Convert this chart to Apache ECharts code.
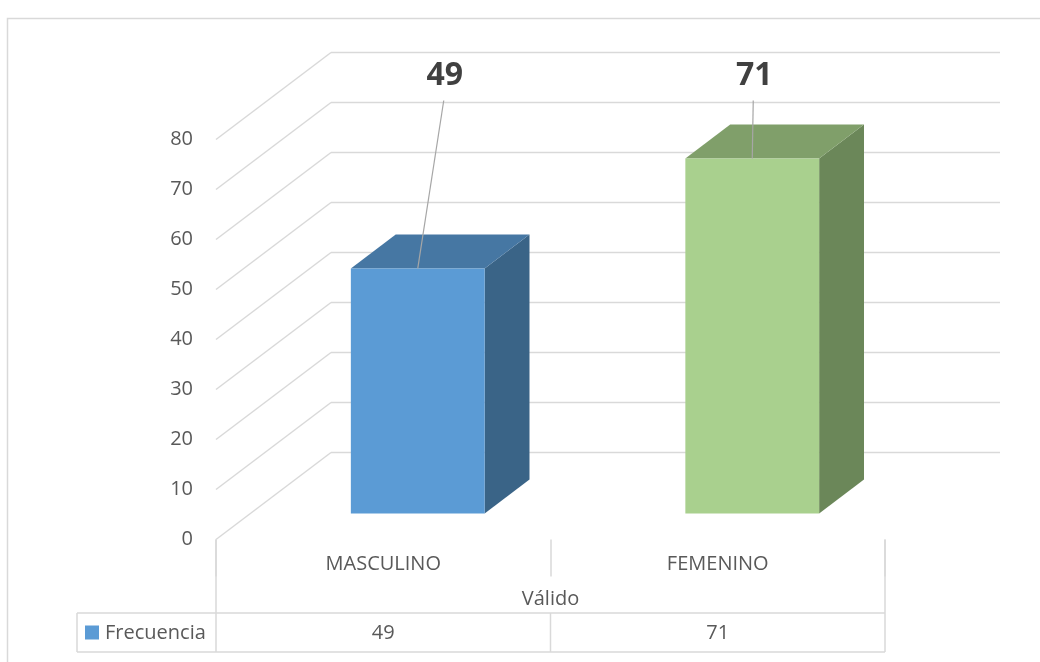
<!DOCTYPE html>
<html><head><meta charset="utf-8">
<script src="https://cdn.jsdelivr.net/npm/echarts@6.0.0/dist/echarts.min.js"></script>
<style>html,body{margin:0;padding:0;background:#fff}#c{width:1040px;height:662px}</style>
</head><body><div id="c"></div>
<script>
// ---- data ----
const categories = ['MASCULINO', 'FEMENINO'];
const groupLabel = 'Válido';
const seriesName = 'Frecuencia';
const frecuencia = [49, 71];
const yTicks = [0, 10, 20, 30, 40, 50, 60, 70, 80];

// ---- style ----
const FONT = "'Open Sans', sans-serif";
const GRID = '#d9d9d9';
const TXT = '#595959';
const DX = 115, DY = -87;          // full depth projection
const F0 = 0.30, F1 = 0.69;         // bar depth range
const BAR_W = 0.4;
const BAR_COLORS = [
  {front: '#5b9bd5', top: '#4677a3', side: '#3a6487'},
  {front: '#a9d08e', top: '#809f6a', side: '#6b8759'}
];
const LABEL_SHIFT = [27, 2];

const chart = echarts.init(document.getElementById('c'), null, {renderer: 'canvas'});

function renderWalls(params, api) {
  const cs = params.coordSys;
  const xL = cs.x, xR = cs.x + cs.width;
  const ch = [];
  yTicks.forEach(v => {
    const y = api.coord([0, v])[1];
    ch.push({type: 'line', shape: {x1: xL, y1: y, x2: xL + DX, y2: y + DY}, style: {stroke: GRID, lineWidth: 1.5}});
    ch.push({type: 'line', shape: {x1: xL + DX, y1: y + DY, x2: xR + DX, y2: y + DY}, style: {stroke: GRID, lineWidth: 1.5}});
  });
  return {type: 'group', children: ch};
}

function renderBar(params, api) {
  const i = api.value(0), v = api.value(1);
  const cs = params.coordSys;
  const top = api.coord([i, v]);
  const base = api.coord([i, 0]);
  const w = api.size([1, 0])[0] * BAR_W;
  const fx = DX * F0, fy = DY * F0, bx = DX * F1, by = DY * F1;
  const xl = top[0] - w / 2 + fx, xr = top[0] + w / 2 + fx;
  const yt = top[1] + fy, yb = base[1] + fy;
  const ox = bx - fx, oy = by - fy;
  const c = BAR_COLORS[i];
  const ly = cs.y + DY + 23;
  const lx = top[0] + fx + LABEL_SHIFT[i];
  return {type: 'group', children: [
    {type: 'polygon', shape: {points: [[xr, yt], [xr + ox, yt + oy], [xr + ox, yb + oy], [xr, yb]]}, style: {fill: c.side}},
    {type: 'polygon', shape: {points: [[xl, yt], [xr, yt], [xr + ox, yt + oy], [xl + ox, yt + oy]]}, style: {fill: c.top}},
    {type: 'rect', shape: {x: xl, y: yt, width: xr - xl, height: yb - yt}, style: {fill: c.front}},
    {type: 'line', shape: {x1: lx - 1, y1: ly + 25, x2: top[0] + fx, y2: yt}, style: {stroke: '#a6a6a6', lineWidth: 1.2}},
    {type: 'text', x: lx, y: ly, style: {text: String(v), font: 'bold 32px ' + FONT, fill: '#404040', align: 'center', verticalAlign: 'middle'}}
  ]};
}

function renderTable(params, api) {
  const cs = params.coordSys;
  const x0 = cs.x, x1 = cs.x + cs.width;
  const yb = api.coord([0, 0])[1];
  const rCat = yb + 37, rGrp = yb + 73.5, rVal = yb + 112.5;
  const legL = x0 - 139;
  const ln = (a, b, c, d) => ({type: 'line', shape: {x1: a, y1: b, x2: c, y2: d}, style: {stroke: GRID, lineWidth: 1.5}});
  const ch = [
    ln(x0, yb, x0, rVal), ln(x1, yb, x1, rVal),
    ln(legL, rGrp, x1, rGrp), ln(legL, rVal, x1, rVal), ln(legL, rGrp, legL, rVal),
    {type: 'text', x: (x0 + x1) / 2, y: (rCat + rGrp) / 2 + 5, style: {text: groupLabel, font: '20px ' + FONT, fill: TXT, align: 'center', verticalAlign: 'middle'}},
    {type: 'rect', shape: {x: legL + 8, y: (rGrp + rVal) / 2 - 7, width: 14, height: 14}, style: {fill: BAR_COLORS[0].front}},
    {type: 'text', x: legL + 28, y: (rGrp + rVal) / 2 + 1, style: {text: seriesName, font: '20px ' + FONT, fill: TXT, align: 'left', verticalAlign: 'middle'}}
  ];
  const cw = api.size([1, 0])[0];
  frecuencia.forEach((v, i) => {
    const cx = api.coord([i, 0])[0];
    if (i > 0) ch.push(ln(cx - cw / 2, rGrp, cx - cw / 2, rVal));
    ch.push({type: 'text', x: cx, y: (rGrp + rVal) / 2 + 1, style: {text: String(v), font: '20px ' + FONT, fill: TXT, align: 'center', verticalAlign: 'middle'}});
  });
  return {type: 'group', children: ch};
}

chart.setOption({
  backgroundColor: '#ffffff',
  animation: false,
  graphic: [{type: 'rect', left: 5, top: 16, shape: {width: 1060, height: 700}, style: {fill: 'none', stroke: GRID, lineWidth: 1.5}, z: -1}],
  grid: {left: 216, right: 155, top: 139.5, bottom: 122.5},
  xAxis: {
    type: 'category', data: categories,
    axisLine: {show: false},
    axisTick: {show: true, length: 37, lineStyle: {color: GRID, width: 1.5}},
    axisLabel: {margin: 15, fontSize: 20, fontFamily: FONT, color: TXT},
    splitLine: {show: false}
  },
  yAxis: {
    type: 'value', min: 0, max: 80, interval: 10,
    axisLine: {show: false}, axisTick: {show: false},
    splitLine: {show: false},
    axisLabel: {margin: 23, fontSize: 20, fontFamily: FONT, color: TXT}
  },
  series: [
    {type: 'custom', name: 'walls', silent: true, renderItem: renderWalls, data: [[0, 0]], z: 1, clip: false},
    {type: 'custom', name: seriesName, silent: true, renderItem: renderBar, data: frecuencia.map((v, i) => [i, v]), z: 2, clip: false},
    {type: 'custom', name: 'table', silent: true, renderItem: renderTable, data: [[0, 0]], z: 1, clip: false}
  ]
});
</script></body></html>
